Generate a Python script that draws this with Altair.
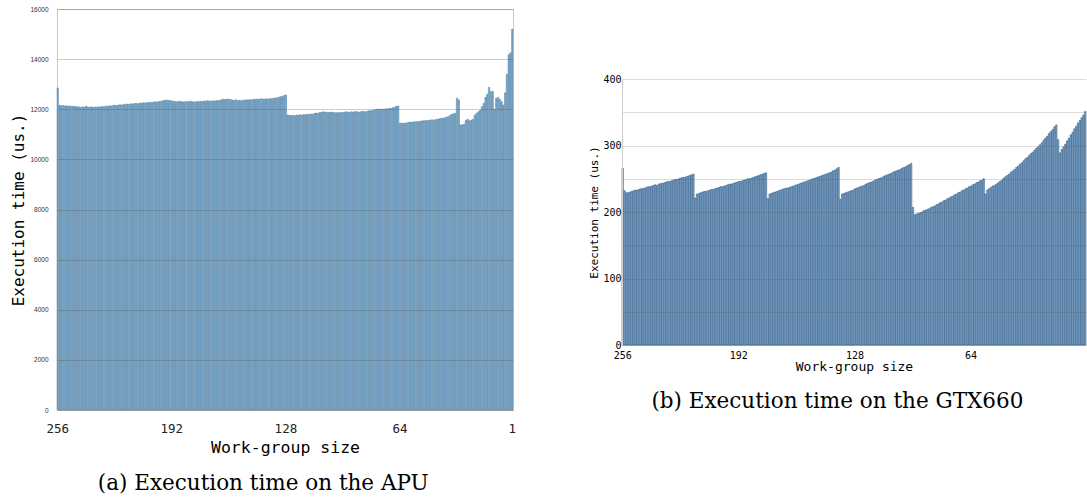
import altair as alt
import pandas as pd

# Work-group sizes (categories), left to right: 256 ... 1
sizes = list(range(256, 0, -1))

# (a) APU execution time (us.), one value per work-group size 256..1
apu_time = [
    12850,
    12160, 12140, 12150, 12130, 12140, 12120, 12130, 12110, 12120, 12100,
    12110, 12090, 12070, 12100, 12080, 12120, 12090, 12080, 12100, 12070,
    12090, 12080, 12100, 12090, 12110, 12100, 12130, 12120, 12140, 12130,
    12150, 12160, 12140, 12170, 12180, 12170, 12200, 12190, 12210, 12200,
    12220, 12210, 12230, 12240, 12220, 12250, 12240, 12260, 12250, 12270,
    12260, 12280, 12270, 12290, 12300, 12290, 12310, 12320, 12340, 12360,
    12370, 12350, 12360, 12330, 12320, 12310, 12300, 12320, 12310, 12300,
    12290, 12310, 12300, 12320, 12310, 12300, 12290, 12310, 12300, 12320,
    12310, 12330, 12320, 12340, 12330, 12320, 12340, 12330, 12350, 12340,
    12360, 12380, 12400, 12390, 12410, 12400, 12390, 12370, 12360, 12380,
    12350, 12360, 12340, 12370, 12360, 12380, 12370, 12390, 12380, 12400,
    12390, 12410, 12400, 12420, 12410, 12400, 12420, 12410, 12430, 12420,
    12440, 12450, 12460, 12480, 12500, 12520, 12550, 12570,
    11770, 11760, 11750, 11760, 11740, 11770, 11760, 11780, 11770, 11790,
    11780, 11800, 11790, 11810, 11800, 11830, 11850, 11840, 11870, 11880,
    11900, 11890, 11880, 11870, 11890, 11880, 11870, 11860, 11870, 11860,
    11880, 11870, 11890, 11900, 11880, 11890, 11900, 11890, 11910, 11900,
    11890, 11900, 11920, 11910, 11900, 11930, 11950, 11940, 11960, 11980,
    12000, 12010, 11990, 12010, 12000, 12020, 12010, 12040, 12030, 12060,
    12080, 12120, 12130,
    11440, 11450, 11440, 11450, 11460, 11480, 11490, 11480, 11500, 11510,
    11500, 11520, 11530, 11540, 11550, 11540, 11560, 11570, 11580, 11570,
    11590, 11600, 11620, 11640, 11630, 11660, 11680, 11700, 11750, 11800,
    11820, 11840,
    12435, 12370,
    11370, 11380, 11400, 11560, 11600, 11540, 11560, 11600, 11770, 11840,
    11900, 11970, 12100, 12240, 12475, 12600, 12880, 12700, 12720, 12000,
    12435, 12475, 12400, 12300, 12170, 12660, 13400, 14170, 14250, 15200,
]

# (b) GTX660 execution time (us.), one value per work-group size 256..1
gtx_time = [
    266,
    232, 229, 229, 230, 231, 232, 233, 233, 234, 235, 235, 236, 237, 238, 238,
    239, 240, 241, 240, 242, 243, 243, 244, 245, 246, 246, 247, 248, 249, 249,
    250, 251, 252, 252, 253, 254, 255, 256, 257,
    221, 227, 228, 229, 230, 231, 231, 232, 233, 234, 234, 235, 236, 237, 238,
    238, 239, 240, 241, 242, 242, 243, 244, 245, 246, 246, 247, 248, 249, 250,
    250, 251, 252, 253, 254, 255, 256, 257, 258, 259,
    220, 227, 228, 229, 230, 231, 232, 233, 234, 235, 236, 236, 237, 238, 239,
    240, 241, 242, 243, 244, 245, 246, 247, 248, 249, 250, 251, 252, 253, 254,
    255, 256, 257, 258, 259, 260, 262, 263, 265, 267,
    219, 227, 228, 229, 230, 231, 232, 233, 235, 236, 237, 238, 239, 240, 242,
    243, 244, 245, 246, 248, 249, 250, 251, 252, 254, 255, 256, 257, 258, 260,
    261, 262, 263, 264, 266, 267, 268, 270, 271, 273,
    207, 196, 197, 198, 199, 200, 202, 203, 204, 205, 207, 208, 209, 211, 212,
    214, 215, 217, 218, 220, 221, 223, 224, 226, 227, 229, 230, 232, 233, 235,
    236, 238, 239, 241, 242, 244, 245, 247, 248, 250,
    227, 233, 235, 237, 239, 240, 242, 244, 246, 248, 251, 253, 255, 257, 260,
    262, 264, 267, 269, 272, 274, 277, 280, 282, 285, 288, 290, 293, 296, 298,
    301, 304, 308, 311, 314, 318, 321, 324, 328, 331,
    309, 289, 294, 298, 302, 307, 311, 316, 320, 325, 329, 334, 338, 342, 346, 351,
]

apu_ticks = [256, 192, 128, 64, 1]
gtx_ticks = [256, 192, 128, 64]

apu_df = pd.DataFrame({"size": sizes, "time": apu_time})
gtx_df = pd.DataFrame({"size": sizes, "time": gtx_time})

mono = "DejaVu Sans Mono"
serif = "DejaVu Serif"

apu = alt.Chart(apu_df).mark_bar(
    fill="#7ea9c9", stroke="#4a7aa0", strokeWidth=0.45
).encode(
    x=alt.X(
        "size:O", sort="descending",
        scale=alt.Scale(paddingInner=0.2, paddingOuter=0),
        axis=alt.Axis(
            values=apu_ticks, labelAngle=0, ticks=False, domain=False, grid=False,
            labelFont=mono, labelFontSize=12.5, labelColor="#222", labelPadding=12,
            title="Work-group size", titleFont=mono, titleFontSize=16.5,
            titleFontWeight="normal", titleColor="#000", titlePadding=5,
        ),
    ),
    y=alt.Y(
        "time:Q", scale=alt.Scale(domain=[0, 16000], nice=False),
        axis=alt.Axis(
            values=list(range(0, 16001, 2000)), format="d", ticks=False, domain=False,
            labelFont="Liberation Sans Narrow, Liberation Sans", labelFontSize=6.5,
            labelColor="#333", labelPadding=9,
            gridColor="#555", gridOpacity=0.3, zindex=1,
            title="Execution time (us.)", titleFont=mono, titleFontSize=16,
            titleFontWeight="normal", titleColor="#000", titlePadding=3,
        ),
    ),
).properties(
    width=456, height=401,
    view=alt.ViewBackground(stroke="#c8c8c8"),
    title=alt.TitleParams(
        text="(a) Execution time on the APU", orient="bottom", anchor="middle",
        frame="bounds", font=serif, fontSize=21.5, fontWeight="normal",
        color="#000", offset=17,
    ),
)

gtx = alt.Chart(gtx_df).mark_bar(
    fill="#93b6d6", stroke="#1c4b7a", strokeWidth=0.55
).encode(
    x=alt.X(
        "size:O", sort="descending",
        scale=alt.Scale(paddingInner=0.25, paddingOuter=0),
        axis=alt.Axis(
            values=gtx_ticks, labelAngle=0, ticks=False, grid=False,
            domainColor="#999", domainDash=[1, 1],
            labelFont=mono, labelFontSize=10, labelColor="#000", labelPadding=5,
            title="Work-group size", titleFont=mono, titleFontSize=13,
            titleFontWeight="normal", titleColor="#000", titlePadding=0,
        ),
    ),
    y=alt.Y(
        "time:Q", scale=alt.Scale(domain=[0, 400], nice=False),
        axis=alt.Axis(
            values=list(range(0, 401, 50)),
            labelExpr="datum.value % 100 == 0 ? datum.label : ''",
            ticks=False, domainColor="#d0d0d0",
            labelFont=mono, labelFontSize=10, labelColor="#000", labelPadding=1,
            gridColor="#555", gridOpacity=0.2, zindex=1,
            title="Execution time (us.)", titleFont=mono, titleFontSize=11,
            titleFontWeight="normal", titleColor="#000", titlePadding=3.5,
        ),
    ),
).properties(
    width=464, height=266,
    title=alt.TitleParams(
        text="(b) Execution time on the GTX660", orient="bottom", anchor="middle",
        frame="bounds", font=serif, fontSize=21.5, fontWeight="normal",
        color="#000", offset=18,
    ),
)

spacer = alt.Chart(pd.DataFrame({"v": [0]})).mark_point(opacity=0).encode(
    x=alt.X("v:Q", axis=None), y=alt.Y("v:Q", axis=None)
).properties(width=10, height=63)

right = alt.vconcat(spacer, gtx, spacing=0)

chart = alt.hconcat(apu, right, spacing=70).properties(
    padding={"left": 10, "top": 5, "right": 0, "bottom": 2},
    background="white",
).configure_view(stroke="transparent")

chart.save("out.html", embed_options={"renderer": "svg", "actions": False})
